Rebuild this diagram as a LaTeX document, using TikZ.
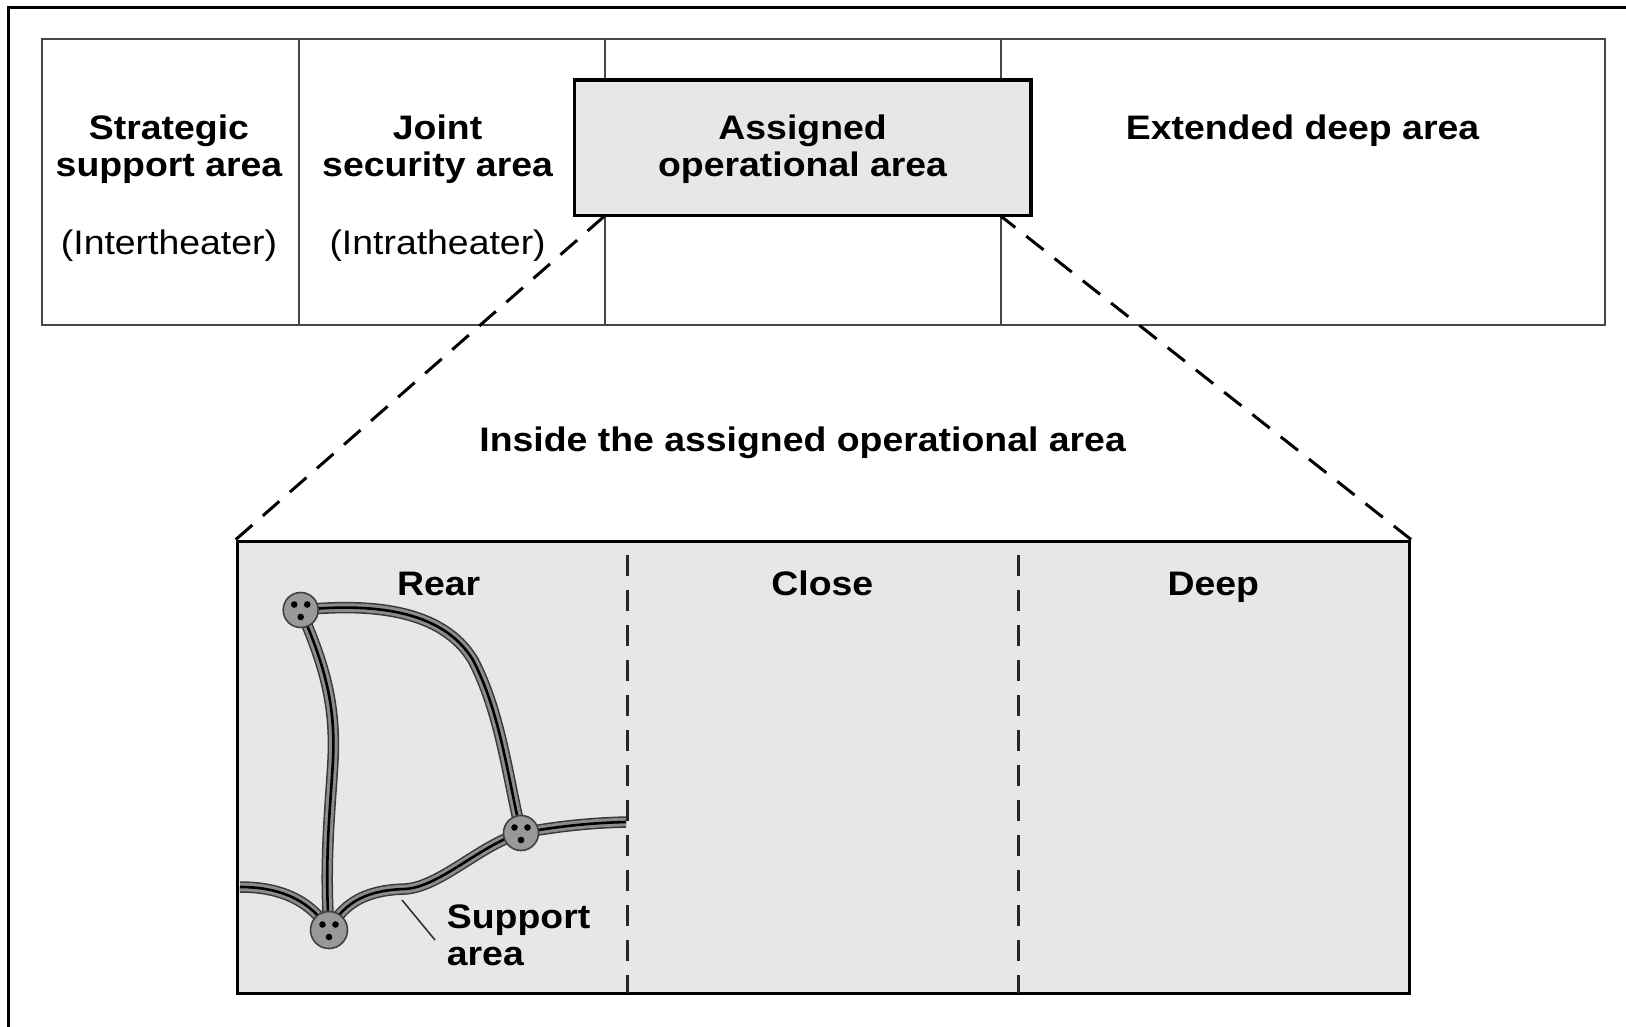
\documentclass[tikz,border=0pt]{standalone}
\usepackage{fontspec}
\setmainfont[FakeStretch=1.1]{Liberation Sans}
\definecolor{boxgray}{HTML}{E6E7E9}
\begin{document}
\begin{tikzpicture}[x=1pt,y=-1pt,
  txt/.style={font=\fontsize{34}{37}\selectfont\bfseries, inner sep=0pt, anchor=base},
  txtr/.style={font=\fontsize{34}{37}\selectfont, inner sep=0pt, anchor=base},
  cellline/.style={draw=black!72, line width=2pt},
  areabox/.style={draw=black, line width=3.5pt, fill=boxgray, inner sep=0pt},
  zoomline/.style={line width=3pt, dash pattern=on 22pt off 14pt},
  divline/.style={draw=black!85, line width=2.7pt, dash pattern=on 21pt off 14pt, dash phase=-14pt},
  road/.style={draw=black!78, line width=11.5pt,
    postaction={draw=black!45, line width=8.5pt},
    postaction={draw=black, line width=2.6pt}},
  hub/.style={circle, inner sep=0pt, minimum size=35pt, fill=black!40, draw=black!75, line width=1.6pt},
  ptr/.style={draw=black!80, line width=1.6pt}]

\useasboundingbox (0,0) rectangle (1626,1027);

% outer frame (only top and left visible)
\draw[line width=3pt] (8,1027) -- (8,7.5) -- (1626,7.5);

% top row of areas
\draw[cellline] (41.5,39.4) rectangle (1605,324.6);
\draw[cellline] (298.7,39.4) -- (298.7,324.6);
\draw[cellline] (604.6,39.4) -- (604.6,324.6);
\draw[cellline] (1000.7,39.4) -- (1000.7,324.6);

\node[areabox, minimum width=456.3pt, minimum height=135.9pt] (aoa) at (802.65,147.75) {};

\node[txt] (s1) at (169,139.5) {Strategic};
\node[txt] (s2) at (169,176.5) {support area};
\node[txtr] (s3) at (169,255) {(Intertheater)};
\node[txt] (j1) at (437.6,139.5) {Joint};
\node[txt] (j2) at (437.6,176.5) {security area};
\node[txtr] (j3) at (437.6,255) {(Intratheater)};
\node[txt] (a1) at (802.6,139.5) {Assigned};
\node[txt] (a2) at (802.6,176.5) {operational area};
\node[txt] (e1) at (1302.5,139.5) {Extended deep area};

\node[txt] (ins) at (802.6,451) {Inside the assigned operational area};

% bottom enlarged box
\node[areabox, minimum width=1171.8pt, minimum height=452.1pt] (inside) at (823.4,767.35) {};

\coordinate (zl) at (604.6,216);
\coordinate (zr) at (1000.7,216);
\draw[zoomline] (inside.north west) -- (zl);
\draw[zoomline] (inside.north east) -- (zr);

\coordinate (d1t) at (627.4,541.3);
\coordinate (d1b) at (627.4,993.4);
\coordinate (d2t) at (1018.3,541.3);
\coordinate (d2b) at (1018.3,993.4);
\draw[divline] (d1t) -- (d1b);
\draw[divline] (d2t) -- (d2b);

\node[txt] (rear) at (438.6,595) {Rear};
\node[txt] (close) at (822.3,595) {Close};
\node[txt] (deep) at (1213.3,595) {Deep};

% road network
\coordinate (hA) at (300.7,610);
\coordinate (hB) at (521,833);
\coordinate (hC) at (329,930);
\coordinate (rW) at (240,887);
\coordinate (rE) at (626,822);

\draw[road] (hA) .. controls (371,603) and (442,609) .. (473,660)
                 .. controls (500,712) and (507,773) .. (hB);
\draw[road] (hA) .. controls (322,660) and (336,700) .. (333,760)
                 .. controls (331,800) and (324,860) .. (hC);
\draw[road] (rW) .. controls (280,887) and (310,900) .. (hC);
\draw[road] (hC) .. controls (345,900) and (370,890) .. (405,889)
                 .. controls (440,887) and (480,845) .. (hB);
\draw[road] (hB) .. controls (560,826) and (590,823) .. (rE);

\node[hub] (A) at (hA) {};
\node[hub] (B) at (hB) {};
\node[hub, minimum size=37pt] (C) at (hC) {};
\foreach \h in {A,B,C}{
  \fill ([shift={(-6.5,-5.5)}]\h.center) circle[radius=3.3pt];
  \fill ([shift={(6.5,-5.5)}]\h.center) circle[radius=3.3pt];
  \fill ([shift={(0,7)}]\h.center) circle[radius=3.3pt];
}

% support area label
\node[txt, anchor=base west] (sup1) at (446.7,928.3) {Support};
\node[txt, anchor=base west] (sup2) at (446.7,965) {area};
\coordinate (ptrS) at (402,900);
\coordinate (ptrE) at (435,940);
\draw[ptr] (ptrS) -- (ptrE);

\end{tikzpicture}
\end{document}
